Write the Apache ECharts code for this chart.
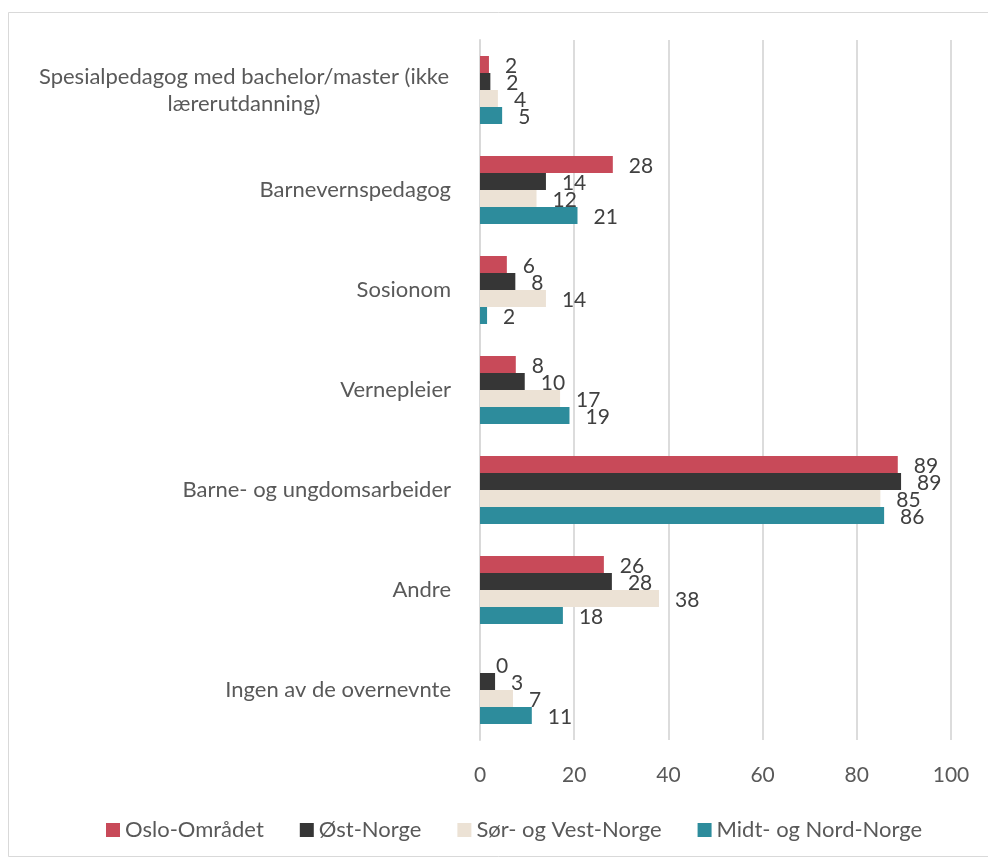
<!DOCTYPE html>
<html><head><meta charset="utf-8">
<script src="https://cdn.jsdelivr.net/npm/echarts@6/dist/echarts.min.js"></script>
<style>html,body{margin:0;padding:0;background:#fff}#c{width:988px;height:859px}</style>
</head><body><div id="c"></div>
<script>
const categories = [
  "Spesialpedagog med bachelor/master (ikke\nlærerutdanning)",
  "Barnevernspedagog",
  "Sosionom",
  "Vernepleier",
  "Barne- og ungdomsarbeider",
  "Andre",
  "Ingen av de overnevnte"
];
const seriesNames = ["Oslo-Området", "Øst-Norge", "Sør- og Vest-Norge", "Midt- og Nord-Norge"];
const oslo = [1.9, 28.2, 5.7, 7.6, 88.7, 26.3, 0];
const ost = [2.2, 14, 7.5, 9.5, 89.4, 28, 3.2];
const sorVest = [3.8, 12, 14, 17, 85, 38, 7];
const midtNord = [4.7, 20.7, 1.5, 19, 85.8, 17.6, 11];
const xTicks = [0, 20, 40, 60, 80, 100];

const colors = ["#c84a59", "#363636", "#ece2d5", "#2d8c9c"];
const font = "Lato, 'Open Sans', sans-serif";
const allData = [oslo, ost, sorVest, midtNord];

const chart = echarts.init(document.getElementById('c'), null, {renderer: 'canvas'});
chart.setOption({
  animation: false,
  backgroundColor: '#fff',
  textStyle: {fontFamily: font},
  graphic: [{
    type: 'rect', shape: {x: 8.5, y: 12.5, width: 990, height: 844},
    style: {fill: 'none', stroke: '#d9d9d9', lineWidth: 1}, silent: true, z: -1
  }],
  grid: {left: 480, right: 37, top: 40, bottom: 119, containLabel: false},
  legend: {
    left: 101, top: 814,
    itemWidth: 14, itemHeight: 14, itemGap: 36,
    icon: 'rect',
    textStyle: {fontFamily: font, fontSize: 22, color: '#595959'},
    data: seriesNames
  },
  xAxis: {
    type: 'value', min: xTicks[0], max: xTicks[xTicks.length-1], interval: 20,
    axisLine: {show: false}, axisTick: {show: false},
    splitLine: {show: true, lineStyle: {color: '#dcdcdc', width: 2}},
    axisLabel: {fontFamily: font, fontSize: 21, color: '#595959', margin: 25}
  },
  yAxis: {
    type: 'category', inverse: true, data: categories,
    axisLine: {show: true, lineStyle: {color: '#d9d9d9', width: 2}},
    axisTick: {show: false},
    axisLabel: {
      fontFamily: font, fontSize: 22, color: '#595959', margin: 29,
      formatter: function (v) {
        if (v.indexOf('\n') >= 0) {
          return v.split('\n').map(s => '{c|' + s + '}').join('\n');
        }
        return v;
      },
      rich: {c: {width: 414, align: 'center', fontFamily: font, fontSize: 22, color: '#595959', lineHeight: 27}}
    }
  },
  series: seriesNames.map((name, i) => ({
    name: name, type: 'bar', data: allData[i],
    barCategoryGap: '32%', barGap: '0%',
    itemStyle: {color: colors[i]},
    label: {
      show: true, position: 'right', distance: 16, offset: [0, 2],
      fontFamily: font, fontSize: 21, color: '#404040',
      formatter: p => Math.round(p.value)
    }
  }))
});
</script></body></html>
